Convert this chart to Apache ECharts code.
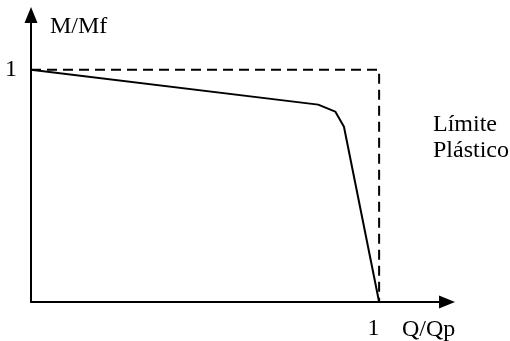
<!DOCTYPE html>
<html>
<head>
<meta charset="utf-8">
<script src="https://cdn.jsdelivr.net/npm/echarts@6/dist/echarts.min.js"></script>
<style>html,body{margin:0;padding:0;background:#fff}#c{width:510px;height:341px}</style>
</head>
<body>
<div id="c"></div>
<script>
// Interaction curve (Q/Qp, M/Mf)
const curveX = [0, 0.825, 0.874, 0.899, 1];
const curveY = [1, 0.850, 0.820, 0.755, 0];
// Plastic limit (dashed)
const limitX = [0, 1, 1];
const limitY = [1, 1, 0];
const xAxisName = 'Q/Qp';
const yAxisName = 'M/Mf';
const limitLabel = ['Límite', 'Plástico'];
const tickLabels = ['1'];

const font = '"Liberation Serif", "Times New Roman", serif';
const chart = echarts.init(document.getElementById('c'), null, {renderer: 'canvas'});
chart.setOption({
  animation: false,
  grid: {left: 31, right: 63, top: 15, bottom: 37, containLabel: false},
  xAxis: {
    type: 'value', min: 0, max: 1.195, interval: 1,
    splitLine: {show: false},
    axisTick: {show: false},
    axisLine: {lineStyle: {color: '#000', width: 2}, symbol: ['none', 'triangle'], symbolSize: [13, 16]},
    axisLabel: {color: '#000', fontFamily: font, fontSize: 24, margin: 15, showMaxLabel: false,
      padding: [0, 11, 0, 0],
      formatter: v => (Math.abs(v - 1) < 1e-9 ? tickLabels[0] : '')}
  },
  yAxis: {
    type: 'value', min: 0, max: 1.236, interval: 1,
    splitLine: {show: false},
    axisTick: {show: false},
    axisLine: {lineStyle: {color: '#000', width: 2}, symbol: ['none', 'triangle'], symbolSize: [13, 16]},
    axisLabel: {color: '#000', fontFamily: font, fontSize: 24, margin: 14, showMaxLabel: false,
      padding: [20, 0, 0, 0],
      formatter: v => (Math.abs(v - 1) < 1e-9 ? tickLabels[0] : '')}
  },
  graphic: [
    {type: 'text', left: 50, top: 15,
      style: {text: yAxisName, fill: '#000', font: '24px ' + font}},
    {type: 'text', left: 402, top: 318,
      style: {text: xAxisName, fill: '#000', font: '24px ' + font}},
    {type: 'text', left: 433, top: 112,
      style: {text: limitLabel.join('\n'), fill: '#000', font: '24px ' + font, lineHeight: 26}}
  ],
  series: [
    {type: 'line', data: limitX.map((x, i) => [x, limitY[i]]), symbol: 'none',
      lineStyle: {color: '#000', width: 2, type: [10, 6]}, z: 1},
    {type: 'line', data: curveX.map((x, i) => [x, curveY[i]]), symbol: 'none',
      lineStyle: {color: '#000', width: 2}, z: 2}
  ]
});
</script>
</body>
</html>
